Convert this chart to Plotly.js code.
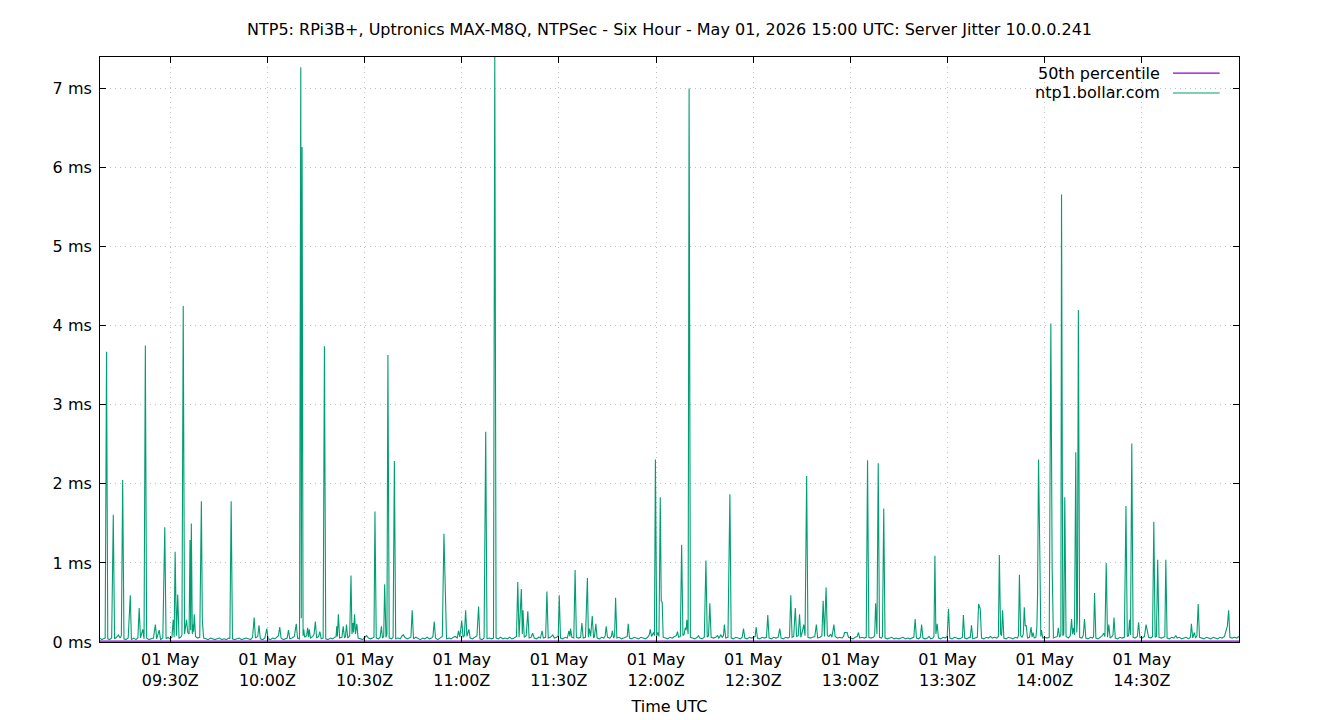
<!DOCTYPE html>
<html><head><meta charset="utf-8">
<script src="https://cdn.plot.ly/plotly-3.0.1.min.js"></script>
<style>html,body{margin:0;padding:0;background:#fff}#chart{width:1340px;height:720px}</style>
</head><body><div id="chart"></div>
<script>
// Samples: [minutes after 01 May 2026 09:00 UTC, server jitter in ms]
const hour09 = [
[8.3,.05],[8.8,.03],[9.4,.04],[9.9,.05],[10.33,3.67],[10.7,.04],[11.3,.03],[11.9,.05],[12.4,1.61],[12.8,.04],[13.4,.06],[14.0,.09],[14.5,.05],[14.9,.08],[15.3,2.05],[15.7,.04],[16.3,.03],[17.0,.05],[17.65,.59],[18.0,.03],[18.7,.05],[19.4,.03],[20.0,.05],[20.4,.43],[20.8,.05],[21.5,.16],[21.9,.04],[22.3,3.75],[22.7,.05],[23.4,.03],[24.1,.04],[24.8,.05],[25.4,.22],[25.8,.04],[26.6,.15],[27.0,.03],[27.7,.05],[28.3,1.45],[28.7,.04],[29.3,.06],[29.9,.04],[30.5,.06],[30.9,.28],[31.2,.06],[31.5,1.14],[31.9,.08],[32.3,.6],[32.7,.05],[33.2,.06],[33.6,.09],[34.0,4.25],[34.4,.1],[35.0,.28],[35.4,.12],[35.8,.1],[36.1,1.29],[36.3,.15],[36.5,1.5],[36.8,.1],[37.0,.22],[37.2,.13],[37.4,.35],[37.8,.07],[38.4,.05],[39.1,.06],[39.6,1.78],[39.9,.27],[40.3,.05],[41.0,.04],[41.7,.03],[42.4,.05],[43.1,.04],[43.8,.03],[44.5,.04],[45.2,.05],[45.9,.03],[46.6,.04],[47.3,.03],[48.0,.05],[48.4,.04],[48.8,1.78],[49.2,.04],[49.9,.03],[50.6,.04],[51.3,.05],[52.0,.03],[52.7,.04],[53.4,.05],[54.1,.04],[54.8,.03],[55.4,.06],[55.9,.31],[56.3,.05],[57.0,.07],[57.4,.21],[57.8,.04],[58.5,.03],[59.2,.05]
];
const hour10 = [
[59.8,.17],[60.2,.04],[60.9,.03],[61.6,.05],[62.3,.04],[63.0,.06],[63.4,.08],[63.8,.19],[64.2,.05],[64.9,.03],[65.6,.04],[66.1,.05],[66.5,.15],[66.9,.04],[67.6,.05],[68.3,.07],[68.9,.23],[69.3,.05],[69.9,.04],[70.3,7.27],[70.45,.3],[70.7,6.26],[71.0,.08],[71.2,.16],[71.5,.06],[72.1,.08],[72.4,.18],[72.7,.06],[72.9,.16],[73.3,.05],[74.0,.07],[74.4,.1],[74.8,.26],[75.2,.05],[75.8,.07],[76.2,.13],[76.6,.04],[77.2,.05],[77.6,3.74],[78.0,.04],[78.7,.03],[79.4,.05],[80.1,.04],[80.8,.06],[81.2,.07],[81.4,.2],[81.6,.07],[81.9,.35],[82.3,.05],[83.0,.06],[83.4,.2],[83.8,.05],[84.1,.07],[84.4,.22],[84.8,.05],[85.4,.08],[85.8,.84],[86.1,.1],[86.4,.24],[86.6,.12],[86.9,.35],[87.2,.1],[87.6,.23],[88.0,.05],[88.7,.04],[89.4,.03],[90.1,.06],[90.6,.08],[91.2,.05],[91.8,.04],[92.5,.05],[92.9,.06],[93.2,1.65],[93.6,.05],[94.3,.04],[94.8,.06],[95.2,.2],[95.5,.05],[95.9,.07],[96.2,.73],[96.6,.06],[96.9,.1],[97.2,3.63],[97.6,.05],[98.3,.04],[98.8,.06],[99.2,2.29],[99.6,.04],[100.3,.05],[101.0,.04],[101.6,.08],[102.0,.09],[102.4,.06],[103.1,.04],[103.8,.05],[104.3,.06],[104.7,.4],[105.1,.04],[105.8,.06],[106.5,.04],[107.2,.03],[107.9,.05],[108.6,.04],[109.3,.06],[110.0,.04],[110.7,.05],[111.1,.07],[111.5,.26],[111.9,.05],[112.6,.03],[113.3,.05],[114.0,.07],[114.5,1.37],[114.9,.45],[115.3,.04],[116.0,.05],[116.7,.04],[117.4,.06],[118.0,.07],[118.6,.05],[119.0,.14],[119.4,.06]
];
const hour11 = [
[120.0,.27],[120.4,.06],[120.8,.08],[121.2,.4],[121.6,.07],[122.2,.16],[122.6,.05],[123.3,.04],[124.0,.06],[124.7,.08],[125.2,.45],[125.6,.04],[126.3,.03],[126.9,.05],[127.4,2.66],[127.8,.04],[128.5,.05],[129.2,.04],[129.8,.05],[130.2,7.4],[130.6,.05],[131.3,.04],[132.0,.06],[132.7,.04],[133.4,.05],[134.1,.04],[134.8,.06],[135.5,.04],[136.2,.05],[136.9,.07],[137.3,.76],[137.7,.06],[138.4,.67],[138.7,.1],[138.9,.4],[139.3,.06],[139.9,.08],[140.4,.39],[140.8,.05],[141.4,.06],[141.9,.11],[142.4,.05],[143.1,.04],[143.8,.06],[144.3,.05],[144.8,.14],[145.2,.05],[145.9,.06],[146.3,.64],[146.7,.05],[147.4,.06],[148.1,.09],[148.6,.05],[149.3,.06],[149.8,.08],[150.1,.59],[150.5,.05],[151.2,.04],[151.9,.06],[152.6,.05],[153.1,.14],[153.4,.07],[153.6,.17],[154.0,.06],[154.6,.05],[155.0,.91],[155.4,.06],[156.1,.05],[156.7,.06],[157.1,.24],[157.5,.05],[158.2,.06],[158.8,.81],[159.1,.06],[159.4,.17],[159.8,.07],[160.3,.33],[160.7,.05],[161.0,.07],[161.4,.23],[161.8,.05],[162.5,.04],[163.2,.06],[163.9,.05],[164.3,.08],[164.6,.2],[165.0,.06],[165.7,.05],[166.2,.07],[166.5,.14],[166.9,.05],[167.2,.08],[167.5,.56],[167.9,.05],[168.6,.06],[169.3,.04],[170.0,.05],[170.7,.06],[171.1,.07],[171.4,.23],[171.8,.05],[172.5,.04],[173.2,.06],[173.9,.05],[174.6,.04],[175.3,.06],[176.0,.05],[176.7,.04],[177.4,.06],[177.9,.09],[178.2,.16],[178.6,.07],[179.2,.12],[179.5,.08],[179.8,2.31]
];
const hour12 = [
[180.2,.08],[180.6,.12],[180.9,.07],[181.3,1.83],[181.6,.52],[181.9,.5],[182.2,.06],[182.9,.05],[183.6,.04],[184.3,.06],[185.0,.05],[185.7,.07],[186.3,.08],[186.6,.13],[187.0,.06],[187.5,.07],[187.9,1.23],[188.3,.08],[188.7,.1],[189.0,.18],[189.3,.15],[189.5,.28],[189.9,.1],[190.2,7.0],[190.6,.06],[191.3,.05],[192.0,.04],[192.7,.06],[193.1,.08],[193.5,.05],[194.2,.04],[194.9,.06],[195.4,1.03],[195.8,.06],[196.2,.08],[196.6,.49],[197.0,.06],[197.7,.05],[198.4,.06],[199.0,.08],[199.4,.05],[200.0,.09],[200.4,.06],[200.8,.08],[201.1,.22],[201.5,.05],[202.2,.06],[202.8,1.87],[203.2,.05],[203.9,.04],[204.6,.06],[205.3,.05],[206.0,.04],[206.6,.06],[207.0,.17],[207.4,.05],[208.1,.04],[208.8,.06],[209.5,.05],[210.2,.06],[210.6,.07],[210.9,.19],[211.3,.05],[212.0,.04],[212.7,.06],[213.4,.05],[214.1,.06],[214.5,.34],[214.9,.05],[215.6,.04],[216.3,.06],[217.0,.05],[217.7,.06],[218.2,.17],[218.6,.05],[219.3,.04],[220.0,.06],[220.7,.05],[221.2,.06],[221.6,.59],[222.0,.06],[222.5,.07],[223.0,.43],[223.4,.07],[223.9,.08],[224.3,.35],[224.7,.06],[225.1,.12],[225.6,.22],[226.0,.08],[226.5,2.1],[226.9,.06],[227.6,.05],[228.3,.06],[229.0,.07],[229.5,.22],[229.9,.05],[230.6,.06],[231.2,.08],[231.6,.52],[232.0,.07],[232.5,.69],[232.9,.08],[233.4,.07],[233.9,.1],[234.3,.06],[234.9,.22],[235.3,.07],[236.0,.05],[236.7,.06],[237.4,.05],[237.9,.07],[238.2,.12],[238.6,.12],[239.0,.12],[239.4,.06]
];
const hour13 = [
[240.1,.05],[240.8,.04],[241.5,.06],[242.1,.07],[242.5,.12],[242.9,.05],[243.6,.06],[244.3,.05],[244.9,.06],[245.3,2.3],[245.7,.06],[246.4,.05],[247.1,.06],[247.5,.08],[247.8,.49],[248.2,.1],[248.6,2.26],[249.0,.06],[249.6,.05],[249.9,.07],[250.3,1.69],[250.7,.05],[251.4,.04],[252.1,.05],[252.8,.06],[253.5,.04],[254.2,.05],[254.9,.04],[255.6,.05],[256.3,.06],[257.0,.04],[257.7,.05],[258.4,.04],[259.1,.05],[259.6,.06],[260.0,.29],[260.4,.05],[261.1,.04],[261.6,.06],[262.0,.22],[262.4,.05],[263.1,.04],[263.8,.05],[264.3,.07],[264.8,.04],[265.5,.05],[265.8,.07],[266.1,1.09],[266.4,.1],[266.8,.23],[267.2,.05],[267.9,.04],[268.6,.06],[269.3,.05],[269.9,.07],[270.3,.42],[270.7,.05],[271.4,.04],[272.1,.06],[272.8,.05],[273.5,.04],[274.2,.05],[274.6,.06],[274.9,.34],[275.3,.05],[276.0,.04],[276.7,.06],[277.0,.05],[277.4,.21],[277.8,.04],[278.5,.05],[279.2,.06],[279.6,.48],[280.1,.42],[280.5,.05],[281.2,.04],[281.9,.06],[282.6,.05],[283.3,.07],[283.8,.05],[284.5,.06],[285.2,.05],[285.7,.07],[286.0,1.1],[286.4,.1],[286.7,.08],[287.0,.4],[287.4,.05],[288.1,.04],[288.8,.06],[289.5,.05],[290.2,.04],[290.9,.06],[291.6,.05],[291.9,.08],[292.2,.85],[292.6,.08],[293.0,.06],[293.4,.1],[293.7,.44],[294.0,.2],[294.3,.21],[294.7,.05],[295.3,.06],[295.8,.19],[296.1,.06],[296.4,.12],[296.8,.05],[297.3,.06],[297.6,.2],[297.8,.61],[298.1,2.31],[298.5,1.12],[298.8,.07],[299.0,.15],[299.4,.05]
];
const hour14 = [
[300.0,.06],[300.7,.05],[301.4,.06],[301.9,4.03],[302.3,.95],[302.7,.05],[303.4,.06],[303.9,.07],[304.2,.18],[304.6,.06],[305.0,.1],[305.2,5.66],[305.6,.08],[305.9,.1],[306.2,1.83],[306.6,.07],[307.3,.05],[307.9,.08],[308.3,.29],[308.6,.1],[308.9,.18],[309.2,.09],[309.6,2.4],[309.9,.12],[310.1,.3],[310.4,4.2],[310.8,.06],[311.5,.05],[311.9,.08],[312.3,.29],[312.7,.05],[313.4,.04],[314.1,.06],[314.8,.05],[315.1,.07],[315.4,.62],[315.8,.05],[316.5,.04],[317.2,.06],[317.8,.08],[318.2,.11],[318.6,.07],[319.0,1.0],[319.4,.06],[319.8,.22],[320.2,.05],[320.8,.07],[321.1,.09],[321.4,.31],[321.8,.05],[322.5,.04],[323.2,.06],[323.9,.05],[324.6,.06],[325.1,1.72],[325.5,.07],[325.9,.08],[326.2,.28],[326.5,.09],[326.9,2.51],[327.3,.06],[327.9,.05],[328.6,.07],[329.0,.25],[329.4,.06],[330.1,.05],[330.8,.07],[331.3,.22],[331.7,.14],[332.1,.06],[332.8,.05],[333.3,.07],[333.7,1.52],[334.1,.06],[334.5,.07],[334.9,1.04],[335.3,.06],[336.0,.05],[336.7,.06],[337.1,.07],[337.4,1.04],[337.8,.05],[338.5,.04],[339.2,.06],[339.9,.05],[340.5,.08],[340.9,.05],[341.6,.06],[342.3,.04],[343.0,.05],[343.7,.06],[344.4,.04],[345.0,.06],[345.3,.23],[345.7,.05],[346.2,.12],[346.6,.05],[347.0,.08],[347.4,.48],[347.8,.06],[348.5,.05],[349.2,.04],[349.9,.06],[350.6,.05],[351.3,.04],[352.0,.06],[352.7,.05],[353.4,.04],[354.1,.06],[354.8,.05],[355.5,.07],[356.0,.14],[356.4,.2],[356.8,.4],[357.2,.06],[357.9,.05],[358.6,.06],[359.3,.05],[360.0,.07]
];
const percentileMinutes = [8.3, 360.0];
const percentileMs = [0.012, 0.012];
const tickTimes = ['09:30','10:00','10:30','11:00','11:30','12:00','12:30','13:00','13:30','14:00','14:30'];
const yTicks = [0,1,2,3,4,5,6,7];
const titleText = 'NTP5: RPi3B+, Uptronics MAX-M8Q, NTPSec - Six Hour - May 01, 2026 15:00 UTC: Server Jitter 10.0.0.241';
const seriesNames = ['50th percentile', 'ntp1.bollar.com'];
const seriesColors = ['#9400d3', '#009e73'];

const toDate = m => new Date(Date.UTC(2026,4,1,9,0,0) + Math.round(m*60000)).toISOString().slice(0,19).replace('T',' ');
const samples = [].concat(hour09, hour10, hour11, hour12, hour13, hour14);
const jx = samples.map(p => toDate(p[0]));
const jy = samples.map(p => p[1]);

const font = {family: '"DejaVu Sans", sans-serif', size: 16, color: '#000'};
const traces = [
  {x: percentileMinutes.map(toDate), y: percentileMs, type: 'scatter', mode: 'lines', name: seriesNames[0],
   line: {color: seriesColors[0], width: 1.2}, hoverinfo: 'skip'},
  {x: jx, y: jy, type: 'scatter', mode: 'lines', name: seriesNames[1],
   line: {color: seriesColors[1], width: 1.1}, hoverinfo: 'skip'}
];

const legendY = [0.9726, 0.9385];
const annotations = seriesNames.map((n, i) => ({
  xref: 'paper', yref: 'paper', x: 0.9324, y: legendY[i], xanchor: 'right', yanchor: 'middle',
  text: n, showarrow: false, font: font
}));
const shapes = seriesNames.map((n, i) => ({
  type: 'line', xref: 'paper', yref: 'paper', x0: 0.942, x1: 0.983, y0: legendY[i], y1: legendY[i],
  line: {color: seriesColors[i], width: 1.2}
}));

const layout = {
  width: 1340, height: 720,
  margin: {l: 100, r: 101, t: 57, b: 78},
  paper_bgcolor: '#fff', plot_bgcolor: '#fff',
  font: font,
  showlegend: false,
  title: {text: titleText, x: 0.5, xanchor: 'center', xref: 'paper', y: 1 - 29/720, yref: 'container', yanchor: 'middle', font: font},
  xaxis: {
    type: 'date', range: [toDate(8.3), toDate(360)],
    tickvals: tickTimes.map(t => '2026-05-01 ' + t + ':00'),
    ticktext: tickTimes.map(t => '01 May<br>' + t + 'Z'),
    ticks: 'inside', ticklen: 6, tickwidth: 1, tickcolor: '#000',
    showline: true, linecolor: '#000', linewidth: 1, mirror: 'ticks',
    showgrid: true, gridcolor: '#c0c0c0', gridwidth: 1, griddash: '1px,4px',
    zeroline: false, tickfont: font, ticklabelstandoff: 3,
    title: {text: 'Time UTC', font: font, standoff: 11}
  },
  yaxis: {
    range: [0, 7.4], tickvals: yTicks, ticktext: yTicks.map(v => v + ' ms'),
    ticks: 'inside', ticklen: 6, tickwidth: 1, tickcolor: '#000',
    showline: true, linecolor: '#000', linewidth: 1, mirror: 'ticks',
    showgrid: true, gridcolor: '#c0c0c0', gridwidth: 1, griddash: '1px,4px',
    zeroline: false, tickfont: font, ticklabelstandoff: 4
  },
  annotations: annotations,
  shapes: shapes
};
Plotly.newPlot('chart', traces, layout, {displayModeBar: false, staticPlot: true});
</script>
</body></html>
